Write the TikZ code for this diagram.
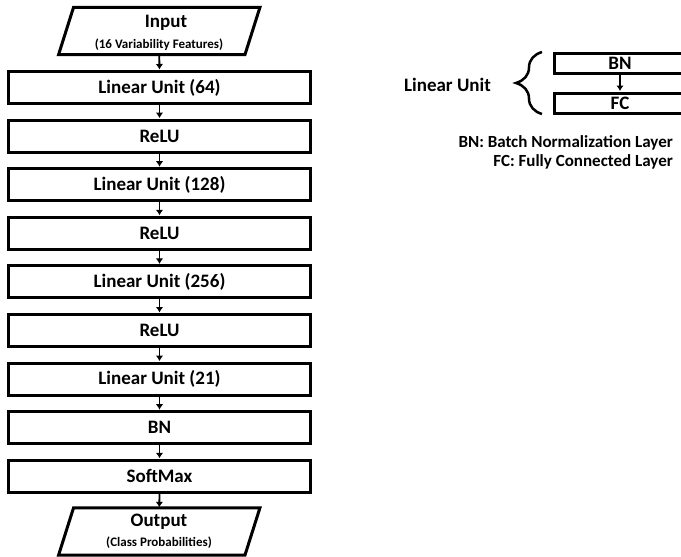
\documentclass[tikz,border=0pt]{standalone}
\usepackage{fontspec}
\setmainfont{Carlito}
\usetikzlibrary{arrows.meta,decorations.pathreplacing}
\begin{document}
\begin{tikzpicture}[x=1pt,y=-1pt,
  layer/.style={draw, line width=3pt, minimum width=302pt, minimum height=32pt,
    inner sep=0pt, font=\fontsize{19}{19}\selectfont\bfseries},
  io/.style={minimum width=186pt, minimum height=47pt, inner sep=0pt},
  frame/.style={line width=3pt, line join=miter},
  big/.style={font=\fontsize{19}{19}\selectfont\bfseries},
  small/.style={font=\fontsize{13}{13}\selectfont\bfseries},
  minibox/.style={draw, line width=3pt, minimum width=132pt, minimum height=20pt,
    inner sep=0pt, font=\fontsize{19}{19}\selectfont\bfseries},
  flow/.style={-{Latex[length=5.5pt,width=7.5pt]}, line width=1.8pt, shorten >=0.5pt},
  legend/.style={anchor=east, inner sep=0pt, font=\fontsize{17}{17}\selectfont\bfseries}
]
\useasboundingbox (0,0) rectangle (681,557);
\clip (0,0) rectangle (681,557);

% slanted input / output blocks
\newcommand\slantbox[1]{%
  \draw[frame] ([xshift=7.5pt]#1.north west) -- ([xshift=7.5pt]#1.north east)
    -- ([xshift=-7.5pt]#1.south east) -- ([xshift=-7.5pt]#1.south west) -- cycle;}

\node[io] (in) at (159.25,31) {};
\slantbox{in}
\node[big] (inA) at (166,23) {Input};
\node[small] (inB) at (159,45) {(16 Variability Features)};

% layer stack
\node[layer] (l0) at (159.5,87.5) {Linear Unit (64)};
\node[layer] (l1) at (159.5,136.1) {ReLU};
\node[layer] (l2) at (159.5,184.7) {Linear Unit (128)};
\node[layer] (l3) at (159.5,233.3) {ReLU};
\node[layer] (l4) at (159.5,281.9) {Linear Unit (256)};
\node[layer] (l5) at (159.5,330.5) {ReLU};
\node[layer] (l6) at (159.5,379.1) {Linear Unit (21)};
\node[layer] (l7) at (159.5,427.7) {BN};
\node[layer] (l8) at (159.5,476.3) {SoftMax};

\node[io] (out) at (159.25,531.5) {};
\slantbox{out}
\node[big] (outA) at (159,522) {Output};
\node[small] (outB) at (159,543) {(Class Probabilities)};

\draw[flow] (in.south) -- (l0.north);
\foreach \a/\b in {l0/l1,l1/l2,l2/l3,l3/l4,l4/l5,l5/l6,l6/l7,l7/l8}
  \draw[flow] (\a.south) -- (\b.north);
\draw[flow] (l8.south) -- (out.north);

% linear unit detail
\node[minibox] (bn) at (620,63) {BN};
\node[minibox] (fc) at (620,103) {FC};
\draw[flow] (bn.south) -- (fc.north);
\draw[line width=2.5pt, decorate, decoration={brace, amplitude=26pt}]
  (542,114) -- (542,52);
\node[big] (lu) at (447.5,85) {Linear Unit};

% legend
\node[legend] (lg1) at (673,143) {BN: Batch Normalization Layer};
\node[legend] (lg2) at (673,162) {FC: Fully Connected Layer};
\end{tikzpicture}
\end{document}
